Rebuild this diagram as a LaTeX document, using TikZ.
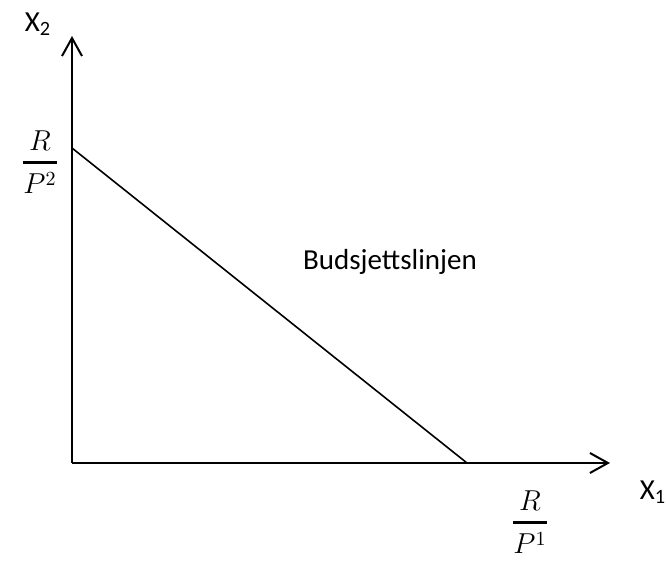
\documentclass[tikz,border=0pt]{standalone}
\usepackage{amsmath}
\usepackage{fontspec}
\setmainfont{Carlito}
\usetikzlibrary{arrows.meta, positioning}
\newcommand{\pricefrac}[1]{\genfrac{}{}{1.4pt}{0}{R}{P^{#1}}}

\begin{document}
\begin{tikzpicture}[x=0.5pt, y=-0.5pt, font=\fontsize{14.5}{17}\selectfont,
  axis/.style={line width=1pt, -{Straight Barb[length=9pt, width=10pt, line width=1pt]}},
  budget/.style={line width=0.8pt}]
\useasboundingbox (0,0) rectangle (666,577);
\coordinate (O) at (72,463);
\coordinate (ytip) at (72,36);
\coordinate (xtip) at (610,463);
\coordinate (A) at (72,148);
\coordinate (B) at (467,463);
\draw[axis] (O) -- (ytip);
\draw[axis] (O) -- (xtip);
\draw[budget] (A) -- (B);
% labels
\node (xtwo) at (38,24) {X\textsubscript{2}};
\node (xone) at (653,492) {X\textsubscript{1}};
\node (rp2) at (40,162) {$\pricefrac{2}$};
\node (rp1) at (530,522) {$\pricefrac{1}$};
\node (lbl) at (390,262) {Budsjettslinjen};
\end{tikzpicture}
\end{document}
